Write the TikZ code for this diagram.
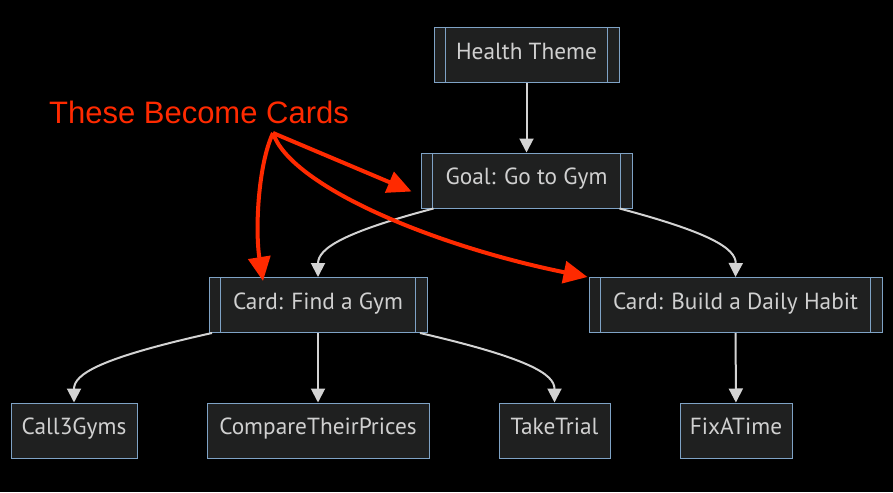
\documentclass[tikz,border=0pt]{standalone}
\usepackage{fontspec}
\setmainfont{PT Sans}
\newfontfamily\notefont{Liberation Sans}
\usepackage{xcolor}
\usetikzlibrary{arrows.meta}

\definecolor{boxfill}{HTML}{1F2020}
\definecolor{boxline}{HTML}{7FA3C6}
\definecolor{boxtext}{HTML}{D0D0D0}
\definecolor{edgegray}{HTML}{D3D3D3}
\definecolor{notered}{HTML}{FF2A00}

\tikzset{
  leaf/.style={draw=boxline, line width=1pt, fill=boxfill, text=boxtext,
    minimum height=55pt, inner sep=0pt, text height=0.88em, text depth=0em,
    font=\fontsize{23.3}{27}\selectfont},
  card/.style={leaf, path picture={
    \draw[boxline, line width=1pt]
      ([xshift=11.5pt]path picture bounding box.north west) -- ([xshift=11.5pt]path picture bounding box.south west)
      ([xshift=-11.5pt]path picture bounding box.north east) -- ([xshift=-11.5pt]path picture bounding box.south east);}},
  flow/.style={draw=edgegray, line width=2pt, -{Triangle[length=14pt,width=14pt]}},
  pointer/.style={draw=notered, line width=4pt, -{Triangle[length=24pt,width=22pt]}}
}

\begin{document}
\begin{tikzpicture}[x=1pt, y=-1pt]
  \fill[black] (0,0) rectangle (893,492);
  \useasboundingbox (0,0) rectangle (893,492);

  % top of the tree
  \node[card, minimum width=185pt] (theme) at (526.5,55) {Health Theme};
  \node[card, minimum width=211pt] (goal) at (526.5,180.5) {Goal: Go to Gym};

  % cards
  \node[card, minimum width=218pt] (findgym) at (318,305) {Card: Find a Gym};
  \node[card, minimum width=293pt] (habit) at (735.5,305) {Card: Build a Daily Habit};

  % tasks
  \node[leaf, minimum width=126pt] (call) at (74,430.5) {Call3Gyms};
  \node[leaf, minimum width=222pt] (compare) at (318,430.5) {CompareTheirPrices};
  \node[leaf, minimum width=111pt] (trial) at (554.5,430.5) {TakeTrial};
  \node[leaf, minimum width=112pt] (fixtime) at (736,430.5) {FixATime};

  \draw[flow] (theme) -- (goal);
  \draw[flow] ([xshift=-93pt]goal.south) .. controls (345,232) and (318,248) .. (findgym.north);
  \draw[flow] ([xshift=93pt]goal.south) .. controls (708,232) and (736,248) .. (habit.north);
  \draw[flow] ([xshift=-106pt]findgym.south) .. controls (100,358) and (74,374) .. (call.north);
  \draw[flow] (findgym) -- (compare);
  \draw[flow] ([xshift=102pt]findgym.south) .. controls (528,358) and (554.5,374) .. (trial.north);
  \draw[flow] (habit) -- (fixtime);

  % the note and its arrows
  \node[text=notered, font=\notefont\fontsize{31}{36}\selectfont, inner sep=0pt] (note) at (199,112) {These Become Cards};
  \coordinate (from) at (273,133);
  \draw[pointer] (from) -- ([xshift=-9pt, yshift=-11pt]goal.west);
  \draw[pointer] (from) .. controls (258,165) and (255,230) .. ([xshift=-55pt, yshift=-4pt]findgym.north);
  \draw[pointer] (from) .. controls (290,185) and (430,245) .. ([xshift=-1pt]habit.north west);
\end{tikzpicture}
\end{document}
